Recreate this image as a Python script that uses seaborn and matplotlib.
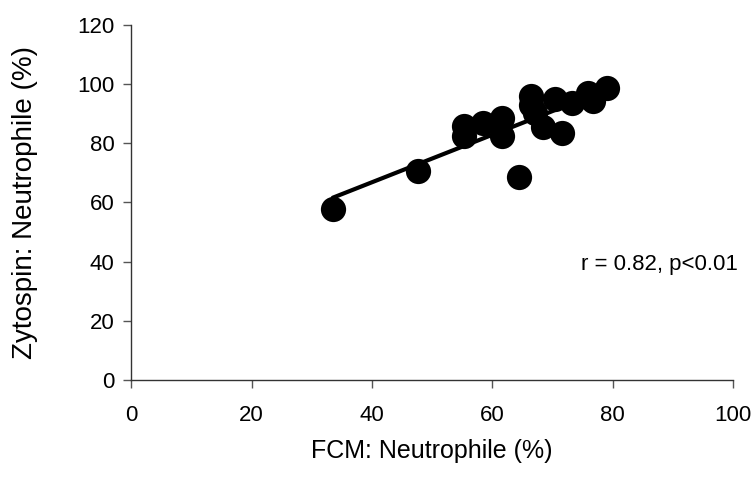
import matplotlib
matplotlib.use("Agg")
import matplotlib.pyplot as plt
import seaborn as sns
import pandas as pd

# values
fcm = [33.5, 47.6, 55.3, 55.3, 58.5, 61.6, 61.6, 64.5, 66.4, 66.5, 67.1, 68.5,
       70.4, 71.6, 73.2, 76.0, 76.8, 79.0]
zyto = [57.8, 70.5, 85.8, 82.5, 86.6, 88.6, 82.3, 68.6, 95.8, 92.8, 90.0, 85.5,
        95.0, 83.4, 93.4, 97.0, 94.3, 98.7]

df = pd.DataFrame({"fcm": fcm, "zyto": zyto})

sns.set_theme(style="white", rc={"text.color": "black", "axes.labelcolor": "black",
                                 "xtick.color": "black", "ytick.color": "black"})
plt.rcParams["font.family"] = ["Liberation Sans", "DejaVu Sans"]

fig = plt.figure(figsize=(7.54, 4.91), dpi=100)
ax = fig.add_axes([0.174, 0.226, 0.798, 0.724])

sns.regplot(data=df, x="fcm", y="zyto", ax=ax, ci=None, truncate=True,
            scatter_kws={"s": 330, "color": "black", "alpha": 1, "linewidths": 0},
            line_kws={"color": "black", "linewidth": 3})

ax.set_xlim(0, 100)
ax.set_ylim(0, 120)
ax.set_xticks(range(0, 101, 20))
ax.set_yticks(range(0, 121, 20))
ax.tick_params(axis="both", labelsize=16, direction="out", length=6, width=1,
               color="#555555", labelcolor="black", left=True, bottom=True)
ax.tick_params(axis="x", pad=12)
ax.tick_params(axis="y", pad=6)
sns.despine(ax=ax)
for s in ("left", "bottom"):
    ax.spines[s].set_color("#333333")
    ax.spines[s].set_linewidth(1)

ax.set_xlabel("FCM: Neutrophile (%)", fontsize=18, labelpad=9)
ax.set_ylabel("Zytospin: Neutrophile (%)", fontsize=20, labelpad=28)
ax.text(100.8, 39.1, "r = 0.82, p<0.01", fontsize=16, ha="right", va="center")

fig.savefig("out.png", dpi=100)
